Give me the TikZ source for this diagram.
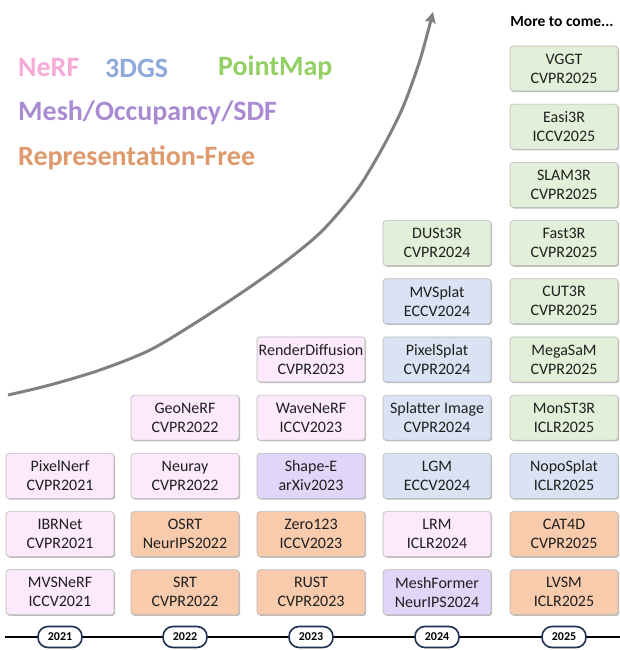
\documentclass[tikz,border=0pt]{standalone}
\usepackage{fontspec}
\setmainfont{Carlito}
\usetikzlibrary{arrows.meta,shadows}

\definecolor{nerffill}{RGB}{252,233,251}
\definecolor{gsfill}{RGB}{218,227,243}
\definecolor{pmfill}{RGB}{226,240,217}
\definecolor{meshfill}{RGB}{225,214,248}
\definecolor{freefill}{RGB}{248,203,173}
\definecolor{boxline}{RGB}{185,185,185}
\definecolor{nerftext}{RGB}{245,170,216}
\definecolor{gstext}{RGB}{142,169,219}
\definecolor{pmtext}{RGB}{146,208,100}
\definecolor{meshtext}{RGB}{169,139,210}
\definecolor{freetext}{RGB}{222,154,108}
\definecolor{pillline}{RGB}{31,48,80}
\definecolor{arrowgray}{RGB}{128,128,128}

\tikzset{
  paper/.style={draw=boxline, line width=0.6pt, rounded corners=3pt,
    minimum width=108pt, minimum height=45pt, inner sep=1pt, align=center,
    text=black!88, font=\fontsize{16}{19}\selectfont,
    drop shadow={shadow xshift=1.2pt, shadow yshift=-1.2pt, opacity=0.25, fill=black}},
  nerf/.style={paper, fill=nerffill},
  gs/.style={paper, fill=gsfill},
  pm/.style={paper, fill=pmfill},
  mesh/.style={paper, fill=meshfill},
  free/.style={paper, fill=freefill},
  legend/.style={anchor=west, inner sep=0pt, font=\fontsize{28}{30}\selectfont\bfseries},
  yearpill/.style={draw=pillline, line width=1.6pt, fill=white, rounded corners=10pt,
    minimum width=44pt, minimum height=21pt, inner sep=0pt,
    font=\fontsize{12}{13}\selectfont\bfseries},
  growth/.style={draw=arrowgray, line width=3pt,
    -{Stealth[length=11pt,width=11pt,inset=2pt]}}
}

\begin{document}
\begin{tikzpicture}[x=1pt,y=1pt]
\useasboundingbox (0,0) rectangle (620,650);

% legend
\node[legend, text=nerftext] (lnerf) at (18,582) {NeRF};
\node[legend, text=gstext] (lgs) at (105,582) {3DGS};
\node[legend, text=pmtext] (lpm) at (218,582) {PointMap};
\node[legend, text=meshtext] (lmesh) at (18,537) {Mesh/Occupancy/SDF};
\node[legend, text=freetext] (lfree) at (18,492) {Representation-Free};

% growth arrow
\draw[growth] plot[smooth, tension=0.5] coordinates
  {(8,255) (50,265) (100,280) (150,300) (200,330) (250,363) (290,392)
   (323,420) (357,460) (383,503) (403,543) (420,590) (433,638)};

\node[font=\fontsize{15.5}{17}\selectfont\bfseries] (more) at (562,628) {More to come...};

% column x and row y helpers
\def\ca{60}\def\cb{185}\def\cc{311}\def\cd{437}\def\ce{564}
\newcommand{\rowy}[1]{\fpeval{57.7+58.2*#1}}

% 2021
\node[nerf] (mvsnerf) at (\ca,\rowy{0}) {MVSNeRF\\ICCV2021};
\node[nerf] (ibrnet) at (\ca,\rowy{1}) {IBRNet\\CVPR2021};
\node[nerf] (pixelnerf) at (\ca,\rowy{2}) {PixelNerf\\CVPR2021};

% 2022
\node[free] (srt) at (\cb,\rowy{0}) {SRT\\CVPR2022};
\node[free] (osrt) at (\cb,\rowy{1}) {OSRT\\NeurIPS2022};
\node[nerf] (neuray) at (\cb,\rowy{2}) {Neuray\\CVPR2022};
\node[nerf] (geonerf) at (\cb,\rowy{3}) {GeoNeRF\\CVPR2022};

% 2023
\node[free] (rust) at (\cc,\rowy{0}) {RUST\\CVPR2023};
\node[free] (zero123) at (\cc,\rowy{1}) {Zero123\\ICCV2023};
\node[mesh] (shapee) at (\cc,\rowy{2}) {Shape-E\\arXiv2023};
\node[nerf] (wavenerf) at (\cc,\rowy{3}) {WaveNeRF\\ICCV2023};
\node[nerf] (renderdiff) at (\cc,\rowy{4}) {RenderDiffusion\\CVPR2023};

% 2024
\node[mesh] (meshformer) at (\cd,\rowy{0}) {MeshFormer\\NeurIPS2024};
\node[nerf] (lrm) at (\cd,\rowy{1}) {LRM\\ICLR2024};
\node[gs] (lgm) at (\cd,\rowy{2}) {LGM\\ECCV2024};
\node[gs] (splatter) at (\cd,\rowy{3}) {Splatter Image\\CVPR2024};
\node[gs] (pixelsplat) at (\cd,\rowy{4}) {PixelSplat\\CVPR2024};
\node[gs] (mvsplat) at (\cd,\rowy{5}) {MVSplat\\ECCV2024};
\node[pm] (dust3r) at (\cd,\rowy{6}) {DUSt3R\\CVPR2024};

% 2025
\node[free] (lvsm) at (\ce,\rowy{0}) {LVSM\\ICLR2025};
\node[free] (cat4d) at (\ce,\rowy{1}) {CAT4D\\CVPR2025};
\node[gs] (noposplat) at (\ce,\rowy{2}) {NopoSplat\\ICLR2025};
\node[pm] (monst3r) at (\ce,\rowy{3}) {MonST3R\\ICLR2025};
\node[pm] (megasam) at (\ce,\rowy{4}) {MegaSaM\\CVPR2025};
\node[pm] (cut3r) at (\ce,\rowy{5}) {CUT3R\\CVPR2025};
\node[pm] (fast3r) at (\ce,\rowy{6}) {Fast3R\\CVPR2025};
\node[pm] (slam3r) at (\ce,\rowy{7}) {SLAM3R\\CVPR2025};
\node[pm] (easi3r) at (\ce,\rowy{8}) {Easi3R\\ICCV2025};
\node[pm] (vggt) at (\ce,\rowy{9}) {VGGT\\CVPR2025};

% timeline
\coordinate (tstart) at (5,13);
\coordinate (tend) at (620,13);
\draw[line width=2.5pt, black] (tstart) -- (tend);
\node[yearpill] (y2021) at (\ca,13) {2021};
\node[yearpill] (y2022) at (\cb,13) {2022};
\node[yearpill] (y2023) at (\cc,13) {2023};
\node[yearpill] (y2024) at (\cd,13) {2024};
\node[yearpill] (y2025) at (\ce,13) {2025};
\end{tikzpicture}
\end{document}
